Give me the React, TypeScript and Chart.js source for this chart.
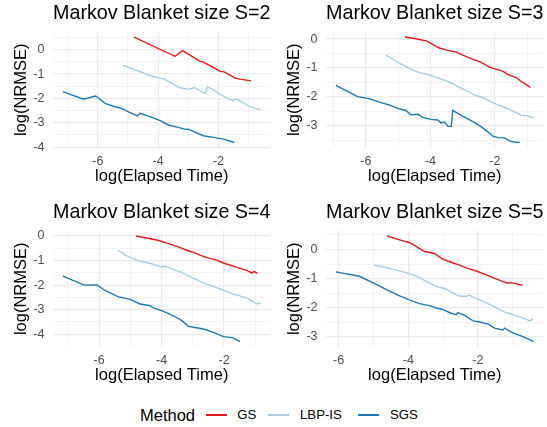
import React, { useEffect, useRef } from 'react';
import { Chart, registerables } from 'chart.js';

Chart.register(...registerables);

type Pt = [number, number];

const FONT = '"Liberation Sans", Arial, Helvetica, sans-serif';

const methods = ['GS', 'LBP-IS', 'SGS'];
const methodColors = ['#E31A1C', '#A6CEE3', '#1F78B4'];
const blanketSizes = [2, 3, 4, 5];

// S = 2
const S2_GS: Pt[] = [[-4.80, 0.52], [-3.44, -0.27], [-3.19, -0.04], [-3.05, -0.14], [-2.61, -0.48], [-2.50, -0.51], [-2.17, -0.73], [-1.94, -0.89], [-1.81, -0.91], [-1.67, -1.00], [-1.45, -1.17], [-1.28, -1.21], [-1.12, -1.24], [-0.92, -1.28]];
const S2_LBP: Pt[] = [[-5.18, -0.63], [-4.71, -0.85], [-4.27, -1.06], [-4.04, -1.14], [-3.82, -1.20], [-3.55, -1.37], [-3.33, -1.54], [-3.05, -1.62], [-2.94, -1.62], [-2.80, -1.55], [-2.66, -1.65], [-2.44, -1.79], [-2.36, -1.53], [-2.17, -1.65], [-2.00, -1.79], [-1.72, -1.99], [-1.52, -2.09], [-1.45, -2.02], [-1.28, -2.09], [-1.01, -2.31], [-0.78, -2.42], [-0.60, -2.45]];
const S2_SGS: Pt[] = [[-7.16, -1.72], [-6.48, -2.03], [-6.07, -1.90], [-5.76, -2.20], [-5.48, -2.32], [-5.20, -2.42], [-4.93, -2.58], [-4.69, -2.72], [-4.60, -2.61], [-4.27, -2.75], [-3.93, -2.91], [-3.66, -3.09], [-3.33, -3.19], [-3.10, -3.27], [-3.00, -3.26], [-2.72, -3.41], [-2.50, -3.53], [-2.17, -3.60], [-1.83, -3.67], [-1.47, -3.81]];

// S = 3
const S3_GS: Pt[] = [[-4.79, 0.07], [-4.45, 0.01], [-4.10, -0.07], [-3.88, -0.22], [-3.72, -0.31], [-3.46, -0.39], [-3.20, -0.45], [-2.94, -0.58], [-2.68, -0.70], [-2.42, -0.81], [-2.17, -0.97], [-1.96, -1.04], [-1.75, -1.12], [-1.60, -1.22], [-1.34, -1.33], [-1.13, -1.51], [-0.90, -1.67]];
const S3_LBP: Pt[] = [[-5.38, -0.56], [-4.96, -0.83], [-4.60, -1.04], [-4.34, -1.16], [-4.03, -1.24], [-3.72, -1.36], [-3.41, -1.49], [-3.10, -1.67], [-2.89, -1.78], [-2.63, -1.94], [-2.37, -2.03], [-2.17, -2.14], [-1.96, -2.25], [-1.70, -2.36], [-1.44, -2.49], [-1.16, -2.65], [-1.00, -2.65], [-0.80, -2.73]];
const S3_SGS: Pt[] = [[-6.93, -1.60], [-6.26, -1.99], [-5.90, -2.06], [-5.53, -2.20], [-5.27, -2.28], [-5.02, -2.40], [-4.76, -2.47], [-4.60, -2.62], [-4.39, -2.60], [-4.24, -2.71], [-3.98, -2.78], [-3.77, -2.80], [-3.67, -2.90], [-3.56, -2.87], [-3.46, -3.02], [-3.35, -3.02], [-3.31, -2.47], [-3.00, -2.67], [-2.68, -2.86], [-2.42, -3.04], [-2.22, -3.21], [-2.06, -3.36], [-1.91, -3.41], [-1.70, -3.42], [-1.54, -3.53], [-1.39, -3.56], [-1.23, -3.58]];

// S = 4
const S4_GS: Pt[] = [[-4.82, 0.00], [-4.47, -0.08], [-4.15, -0.16], [-3.83, -0.29], [-3.51, -0.42], [-3.19, -0.58], [-2.98, -0.67], [-2.71, -0.81], [-2.50, -0.90], [-2.29, -0.96], [-2.02, -1.10], [-1.75, -1.21], [-1.49, -1.32], [-1.27, -1.40], [-1.11, -1.51], [-1.04, -1.44], [-0.93, -1.52]];
const S4_LBP: Pt[] = [[-5.40, -0.58], [-5.11, -0.81], [-4.74, -1.01], [-4.37, -1.11], [-4.05, -1.25], [-3.89, -1.23], [-3.62, -1.36], [-3.30, -1.52], [-2.98, -1.73], [-2.71, -1.88], [-2.45, -2.01], [-2.13, -2.15], [-1.81, -2.32], [-1.54, -2.42], [-1.22, -2.56], [-1.06, -2.68], [-0.95, -2.77], [-0.83, -2.73]];
const S4_SGS: Pt[] = [[-7.16, -1.63], [-6.48, -2.00], [-6.07, -1.99], [-5.81, -2.22], [-5.38, -2.48], [-5.01, -2.58], [-4.69, -2.77], [-4.37, -2.84], [-4.26, -2.93], [-3.94, -3.07], [-3.62, -3.25], [-3.35, -3.45], [-3.14, -3.68], [-2.93, -3.73], [-2.66, -3.79], [-2.34, -3.93], [-2.02, -4.10], [-1.75, -4.14], [-1.65, -4.19], [-1.49, -4.30]];

// S = 5
const S5_GS: Pt[] = [[-4.61, 0.46], [-4.25, 0.33], [-3.95, 0.23], [-3.73, 0.07], [-3.53, -0.07], [-3.25, -0.14], [-3.01, -0.33], [-2.77, -0.44], [-2.53, -0.54], [-2.29, -0.65], [-2.05, -0.74], [-1.81, -0.85], [-1.57, -0.97], [-1.33, -1.08], [-1.14, -1.16], [-1.04, -1.14], [-0.90, -1.18], [-0.72, -1.23]];
const S5_LBP: Pt[] = [[-4.99, -0.54], [-4.64, -0.62], [-4.30, -0.72], [-3.97, -0.83], [-3.68, -0.97], [-3.44, -1.12], [-3.20, -1.27], [-2.96, -1.34], [-2.72, -1.49], [-2.53, -1.60], [-2.34, -1.61], [-2.24, -1.57], [-2.05, -1.68], [-1.76, -1.83], [-1.52, -1.97], [-1.23, -2.15], [-0.94, -2.26], [-0.70, -2.35], [-0.51, -2.45], [-0.42, -2.38]];
const S5_SGS: Pt[] = [[-6.08, -0.77], [-5.41, -0.92], [-5.02, -1.14], [-4.64, -1.37], [-4.30, -1.57], [-3.97, -1.73], [-3.68, -1.86], [-3.39, -1.93], [-3.20, -2.01], [-3.01, -2.06], [-2.77, -2.19], [-2.62, -2.24], [-2.58, -2.17], [-2.38, -2.26], [-2.14, -2.45], [-1.95, -2.49], [-1.71, -2.56], [-1.52, -2.70], [-1.28, -2.76], [-1.23, -2.70], [-1.04, -2.84], [-0.71, -2.99], [-0.40, -3.16]];

const panelSeries: Pt[][][] = [
  [S2_GS, S2_LBP, S2_SGS],
  [S3_GS, S3_LBP, S3_SGS],
  [S4_GS, S4_LBP, S4_SGS],
  [S5_GS, S5_LBP, S5_SGS],
];

const xMajorTicks = [-6, -4, -2, 0];
const xMinorTicks = [-7, -5, -3, -1];
const yMajorTicks = [0, -1, -2, -3, -4];
const yMinorTicks = [0.5, -0.5, -1.5, -2.5, -3.5];

const PANEL_W = 273;
const PANEL_H = 199;

function expandRange(vals: number[]) {
  const lo = Math.min(...vals);
  const hi = Math.max(...vals);
  const pad = (hi - lo) * 0.05;
  return [lo - pad, hi + pad];
}

function Panel({ idx, left, top }: { idx: number; left: number; top: number }) {
  const ref = useRef<HTMLCanvasElement>(null);
  useEffect(() => {
    if (!ref.current) return;
    const series = panelSeries[idx];
    const all = series.flat();
    const [xmin, xmax] = expandRange(all.map((p) => p[0]));
    const [ymin, ymax] = expandRange(all.map((p) => p[1]));
    const gridW = (majors: number[]) => (ctx: any) =>
      majors.includes(ctx.tick?.value) ? 1.2 : 0.6;
    const chart = new Chart(ref.current, {
      type: 'line',
      data: {
        datasets: series.map((pts, i) => ({
          label: methods[i],
          data: pts.map(([x, y]) => ({ x, y })),
          borderColor: methodColors[i],
          backgroundColor: methodColors[i],
          borderWidth: 1.4,
          pointRadius: 0,
          tension: 0,
          fill: false,
        })),
      },
      options: {
        animation: false,
        responsive: false,
        events: [],
        layout: { padding: { left: 0, right: 2.5, top: 0, bottom: 0 } },
        plugins: {
          legend: { display: false },
          tooltip: { enabled: false },
          title: {
            display: true,
            text: `Markov Blanket size S=${blanketSizes[idx]}`,
            align: 'start',
            fullSize: false,
            color: '#000000',
            font: { size: 19.8, weight: 'normal', family: FONT },
            padding: { top: 1.8, bottom: 6.2 },
          },
        },
        scales: {
          x: {
            type: 'linear',
            min: xmin,
            max: xmax,
            afterBuildTicks: (scale: any) => {
              scale.ticks = [...xMajorTicks, ...xMinorTicks]
                .filter((v) => v >= scale.min && v <= scale.max)
                .sort((a, b) => a - b)
                .map((v) => ({ value: v }));
            },
            afterFit: (scale: any) => {
              scale.height = 51.2;
            },
            border: { display: false },
            grid: { color: '#EBEBEB', lineWidth: gridW(xMajorTicks), drawTicks: false },
            ticks: {
              autoSkip: false,
              maxRotation: 0,
              padding: 5.9,
              color: '#4D4D4D',
              font: { size: 12.5, family: FONT },
              callback: (v: any) => (xMajorTicks.includes(Number(v)) ? String(v) : ''),
            },
            title: {
              display: true,
              text: 'log(Elapsed Time)',
              color: '#000000',
              font: { size: 16.5, family: FONT },
              padding: { top: 0, bottom: 13.1 },
            },
          },
          y: {
            type: 'linear',
            min: ymin,
            max: ymax,
            afterBuildTicks: (scale: any) => {
              scale.ticks = [...yMajorTicks, ...yMinorTicks]
                .filter((v) => v >= scale.min && v <= scale.max)
                .sort((a, b) => a - b)
                .map((v) => ({ value: v }));
            },
            afterFit: (scale: any) => {
              scale.width = 53;
            },
            border: { display: false },
            grid: { color: '#EBEBEB', lineWidth: gridW(yMajorTicks), drawTicks: false },
            ticks: {
              autoSkip: false,
              padding: 8.5,
              color: '#4D4D4D',
              font: { size: 12.5, family: FONT },
              callback: (v: any) => (yMajorTicks.includes(Number(v)) ? String(v) : ''),
            },
            title: {
              display: true,
              text: 'log(NRMSE)',
              color: '#000000',
              font: { size: 16.5, family: FONT },
              padding: { top: 11.2, bottom: 0 },
            },
          },
        },
      } as any,
    });
    return () => chart.destroy();
  }, [idx]);
  return (
    <div style={{ position: 'absolute', left, top, width: PANEL_W, height: PANEL_H }}>
      <canvas ref={ref} width={PANEL_W} height={PANEL_H} style={{ width: PANEL_W, height: PANEL_H, display: 'block' }} />
    </div>
  );
}

const legendKeyLeft = [206, 268.3, 358.3];
const legendTextLeft = [237.3, 300, 390];

export default function App() {
  return (
    <div style={{ position: 'absolute', left: 0, top: 0, width: 547, height: 427, background: '#ffffff', fontFamily: FONT, overflow: 'hidden' }}>
      <Panel idx={0} left={0} top={0} />
      <Panel idx={1} left={273} top={0} />
      <Panel idx={2} left={0} top={199} />
      <Panel idx={3} left={273} top={199} />
      <div style={{ position: 'absolute', left: 0, top: 405, width: 547, height: 20 }}>
        <span style={{ position: 'absolute', left: 140, top: 0, lineHeight: '20px', fontSize: 16.5, color: '#000' }}>Method</span>
        {methods.map((m, i) => (
          <React.Fragment key={m}>
            <span style={{ position: 'absolute', left: legendKeyLeft[i], top: 9.3, width: 21, height: 1.4, background: methodColors[i] }} />
            <span style={{ position: 'absolute', left: legendTextLeft[i], top: 0, lineHeight: '20px', fontSize: 13.2, color: '#000' }}>{m}</span>
          </React.Fragment>
        ))}
      </div>
    </div>
  );
}
